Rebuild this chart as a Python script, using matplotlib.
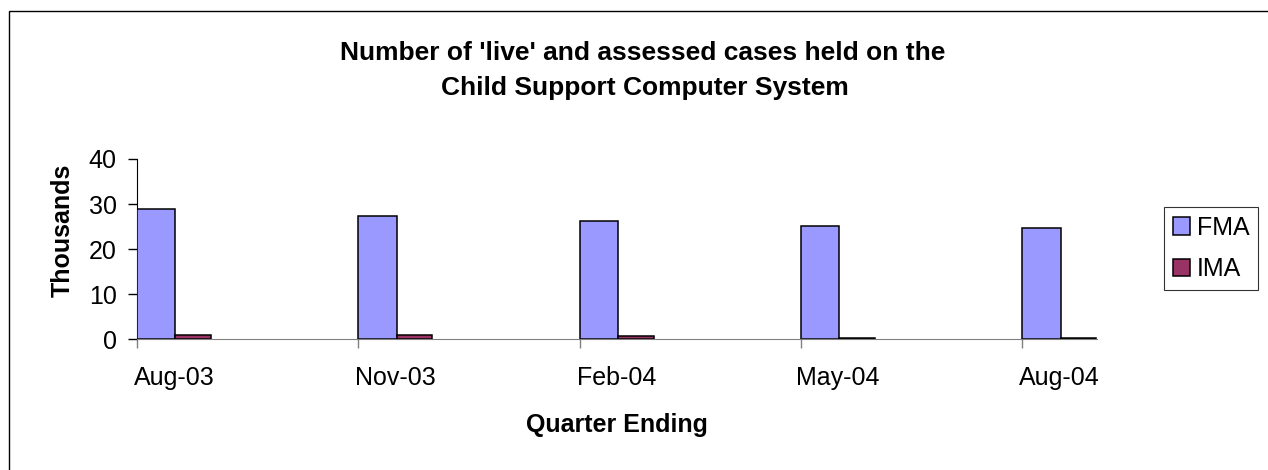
import numpy as np
import matplotlib
matplotlib.use("Agg")
import matplotlib.pyplot as plt
from matplotlib.patches import Rectangle

quarters = ["Aug-03", "Nov-03", "Feb-04", "May-04", "Aug-04"]
fma = [29.0, 27.3, 26.3, 25.1, 24.6]   # thousands
ima = [0.9, 0.9, 0.8, 0.3, 0.3]

fontsize = 18

plt.rc('font', family=['Liberation Sans', 'DejaVu Sans'], size=fontsize)

fig = plt.figure(figsize=(12.68, 4.70), dpi=100)
W, H = 1268, 470

# plot area in pixels: left 137, right 1097, y=0 at 339, y=40 at 159
ax = fig.add_axes([137 / W, 1 - 339.3 / H, 960 / W, 180.3 / H])

x = np.arange(len(quarters))
w_fma = 0.173
w_ima = 0.161
ax.bar(x, fma, width=w_fma, align='edge', color='#9999FF',
       edgecolor='black', linewidth=1.1, label='FMA', zorder=3)
ax.bar(x + w_fma, ima, width=w_ima, align='edge', color='#993366',
       edgecolor='black', linewidth=1.1, label='IMA', zorder=3)

ax.set_xlim(0, 4.337)
ax.set_ylim(0, 40)
ax.set_yticks([0, 10, 20, 30, 40])

# major ticks at category boundaries, labels under bar groups
ax.set_xticks(x)
ax.set_xticklabels([])
ax.set_xticks(x + (w_fma + w_ima) / 2, minor=True)
ax.set_xticklabels(quarters, minor=True)
ax.tick_params(axis='x', which='major', direction='out', length=6.5,
               color='#808080', width=1)
ax.tick_params(axis='x', which='minor', length=0, pad=19)
ax.tick_params(axis='y', direction='out', length=6.5, width=1, pad=8)

for side in ['top', 'right']:
    ax.spines[side].set_visible(False)
ax.spines['left'].set_color('black')
ax.spines['bottom'].set_color('#808080')
ax.spines['bottom'].set_zorder(4)

ax.set_ylabel('Thousands', fontweight='bold')
ax.yaxis.set_label_coords(-0.0646, 0.605)
ax.set_xlabel('Quarter Ending', fontweight='bold', labelpad=17)

fig.text(643 / W, 1 - 53 / H, "Number of 'live' and assessed cases held on the",
         ha='center', va='center', fontweight='bold', fontsize=19)
fig.text(645 / W, 1 - 88 / H, "Child Support Computer System",
         ha='center', va='center', fontweight='bold', fontsize=19)

leg = ax.legend(loc='upper left', bbox_to_anchor=(1164 / W, 1 - 207 / H),
                bbox_transform=fig.transFigure, fancybox=False, shadow=False,
                handlelength=0.68, handleheight=0.68, handletextpad=0.28,
                labelspacing=0.69, borderpad=0.35, borderaxespad=0)
leg.get_frame().set_edgecolor('black')
leg.get_frame().set_linewidth(0.8)

# chart border
fig.patches.append(Rectangle((9 / W, -0.1), 1.1, 1.1 - 10.7 / H,
                             transform=fig.transFigure, fill=False,
                             edgecolor='black', linewidth=1))

fig.savefig('out.png', dpi=100)
